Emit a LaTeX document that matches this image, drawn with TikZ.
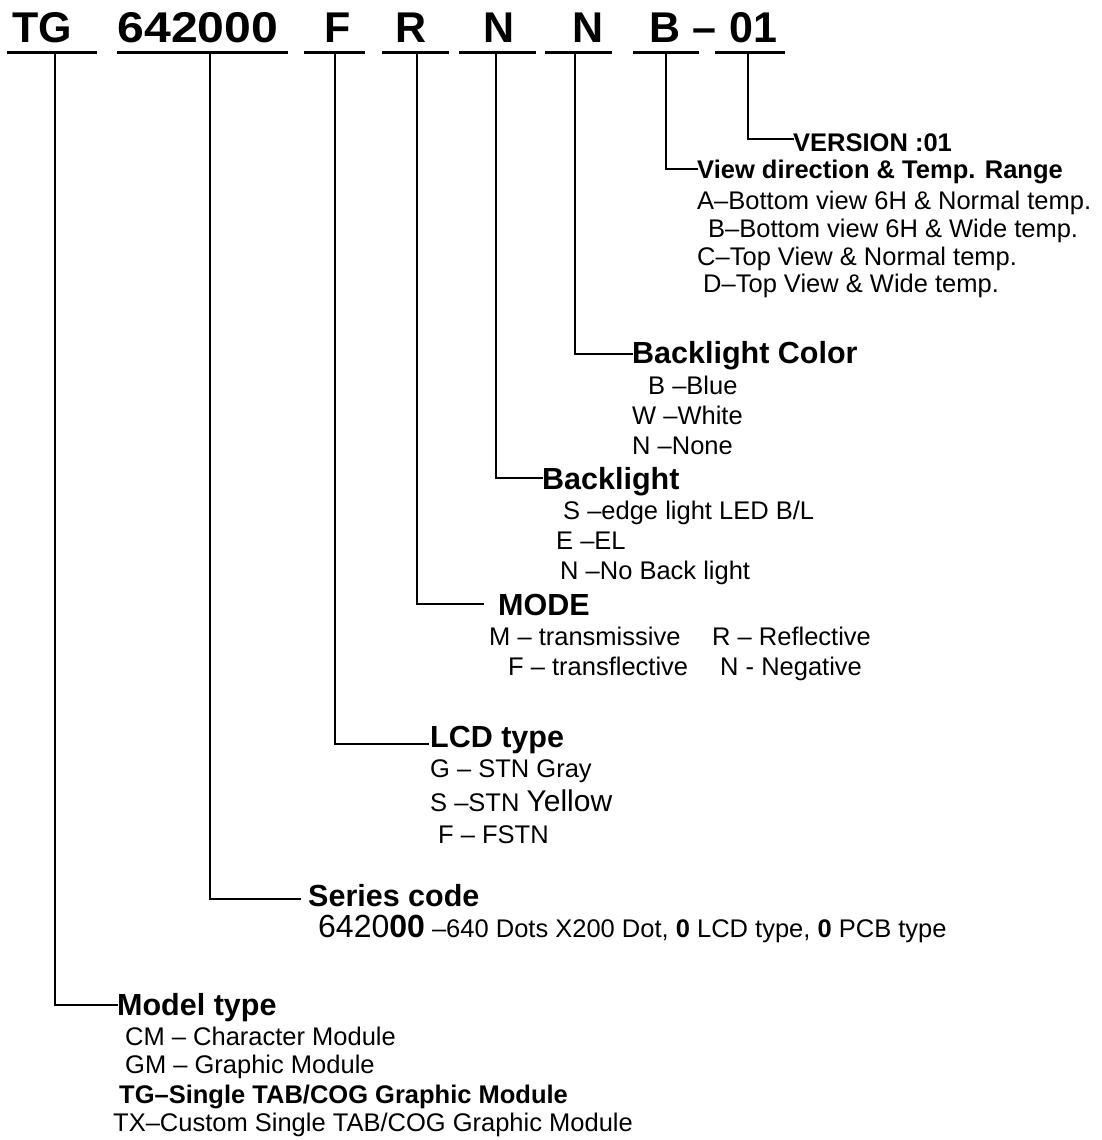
\documentclass[tikz,border=0pt]{standalone}
\usepackage{fontspec}
\setmainfont{Liberation Sans}
\begin{document}
\begin{tikzpicture}[x=1pt,y=-1pt,
  code/.style={font=\fontsize{43}{43}\selectfont\bfseries, inner sep=0pt, anchor=base},
  hd/.style={font=\fontsize{30.5}{36}\selectfont\bfseries, inner sep=0pt, anchor=base west},
  hds/.style={font=\fontsize{25.5}{30}\selectfont\bfseries, inner sep=0pt, anchor=base west},
  item/.style={font=\fontsize{25.5}{30}\selectfont, inner sep=0pt, anchor=base west},
  ln/.style={line width=2.5pt, line join=miter, line cap=rect},
  ul/.style={line width=3pt}]
\useasboundingbox (0,0) rectangle (1102,1140);
\fill[white] (0,0) rectangle (1102,1140);

% code letters
\node[code] (cTG) at (42,43) {TG};
\node[code, xscale=1.12] (cSer) at (198,43) {642000};
\node[code] (cF) at (338,43) {F};
\node[code] (cR) at (411,43) {R};
\node[code] (cN1) at (499,43) {N};
\node[code] (cN2) at (588,43) {N};
\node[code] (cB) at (665,43) {B};
\node[code] (cDash) at (704,43) {–};
\node[code] (cV) at (753,43) {01};

% underlines
\coordinate (uTGa) at (7,53);   \coordinate (uTGb) at (97,53);
\coordinate (uSera) at (117,53); \coordinate (uSerb) at (288,53);
\coordinate (uFa) at (304,53);  \coordinate (uFb) at (365,53);
\coordinate (uRa) at (382,53);  \coordinate (uRb) at (449,53);
\coordinate (uN1a) at (459,53); \coordinate (uN1b) at (536,53);
\coordinate (uN2a) at (545,53); \coordinate (uN2b) at (612,53);
\coordinate (uBa) at (633,53);  \coordinate (uBb) at (699,53);
\coordinate (uVa) at (715,53);  \coordinate (uVb) at (785,53);
\foreach \n in {TG,Ser,F,R,N1,N2,B,V} \draw[ul] (u\n a) -- (u\n b);

% stem tops
\coordinate (sTG) at (55,53);
\coordinate (sSer) at (210,53);
\coordinate (sF) at (335,53);
\coordinate (sR) at (417,53);
\coordinate (sN1) at (496,53);
\coordinate (sN2) at (575,53);
\coordinate (sB) at (666,53);
\coordinate (sV) at (748,53);

% corner ends
\coordinate (eV) at (793,139);
\coordinate (eB) at (697,169);
\coordinate (eN2) at (632,354);
\coordinate (eN1) at (542,478);
\coordinate (eR) at (483,604);
\coordinate (eF) at (428,744);
\coordinate (eSer) at (300,899);
\coordinate (eTG) at (117,1005);

\foreach \n in {TG,Ser,F,R,N1,N2,B,V} \draw[ln] (s\n) |- (e\n);

% VERSION
\node[hds] (hV) at (793,151) {VERSION :01};

% View direction
\node[hds] (hB) at (697,178) {View direction \& Temp. Range};
\node[item] (b1) at (697,209) {A–Bottom view 6H \& Normal temp.};
\node[item] (b2) at (708,237) {B–Bottom view 6H \& Wide temp.};
\node[item] (b3) at (697,265) {C–Top View \& Normal temp.};
\node[item] (b4) at (703,292) {D–Top View \& Wide temp.};

% Backlight color
\node[hd] (hN2) at (632,363) {Backlight Color};
\node[item] (c1) at (648,394) {B –Blue};
\node[item] (c2) at (632,424) {W –White};
\node[item] (c3) at (632,454) {N –None};

% Backlight
\node[hd] (hN1) at (542,489) {Backlight};
\node[item] (l1) at (563,519) {S –edge light LED B/L};
\node[item] (l2) at (556,549) {E –EL};
\node[item] (l3) at (560,579) {N –No Back light};

% MODE
\node[hd] (hR) at (498,615) {MODE};
\node[item] (m1) at (489,645) {M – transmissive};
\node[item] (m2) at (712,645) {R – Reflective};
\node[item] (m3) at (508,675) {F – transflective};
\node[item] (m4) at (720,675) {N - Negative};

% LCD type
\node[hd] (hF) at (430,747) {LCD type};
\node[item] (f1) at (430,777) {G – STN Gray};
\node[item] (f2) at (430,811) {S –STN {\fontsize{30}{36}\selectfont Yellow}};
\node[item] (f3) at (438,843) {F – FSTN};

% Series code
\node[hd] (hSer) at (308,906) {Series code};
\node[item] (s1) at (318,937) {{\fontsize{32}{36}\selectfont 6420\textbf{00}} –640 Dots X200 Dot, \textbf{0} LCD type, \textbf{0} PCB type};

% Model type
\node[hd] (hTG) at (117,1015) {Model type};
\node[item] (t1) at (125,1045) {CM – Character Module};
\node[item] (t2) at (125,1073) {GM – Graphic Module};
\node[item, font=\fontsize{25.5}{30}\selectfont\bfseries] (t3) at (119,1103) {TG–Single TAB/COG Graphic Module};
\node[item] (t4) at (113,1131) {TX–Custom Single TAB/COG Graphic Module};
\end{tikzpicture}
\end{document}
